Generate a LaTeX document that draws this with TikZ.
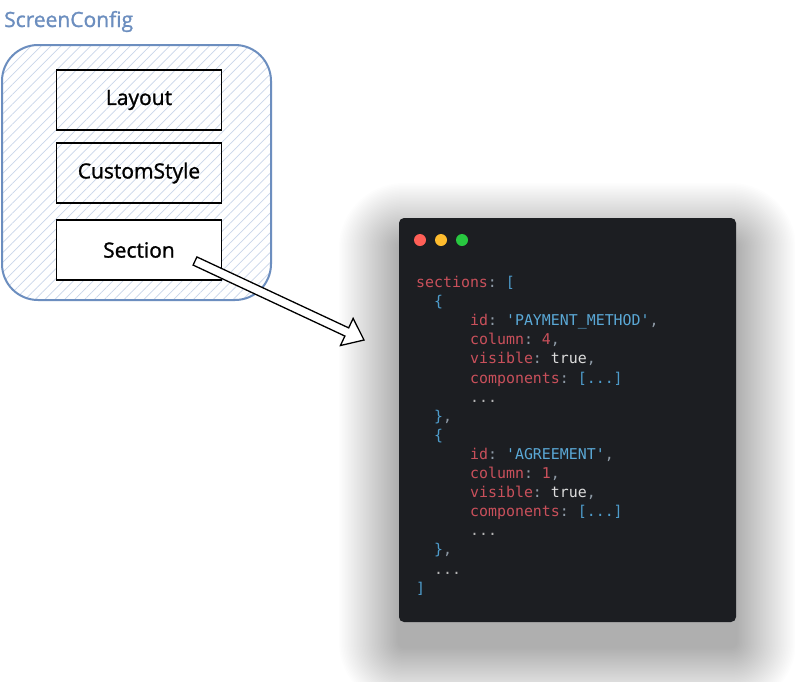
\documentclass[tikz,border=0pt]{standalone}
\usepackage{fontspec}
\setmainfont{Open Sans}[FakeBold=1.2]
\newfontfamily\codefont{DejaVu Sans Mono}
\usetikzlibrary{patterns.meta,calc}
\definecolor{cfgblue}{HTML}{6C8EBF}
\definecolor{hatchblue}{HTML}{C9D6EA}
\definecolor{panelbg}{HTML}{1C1E22}
\definecolor{keyred}{HTML}{C9505B}
\definecolor{strblue}{HTML}{5AA8D6}
\definecolor{brblue}{HTML}{4E9CCB}
\definecolor{colgray}{HTML}{8E9AA6}
\definecolor{truewhite}{HTML}{DCDCDC}
\definecolor{dotgray}{HTML}{B4B4B4}
\definecolor{dred}{HTML}{FF5F57}
\definecolor{dyellow}{HTML}{FEBC2E}
\definecolor{dgreen}{HTML}{28C840}
\newcommand\Ky[1]{\textcolor{keyred}{#1}}
\newcommand\Co[1]{\textcolor{colgray}{#1}}
\newcommand\St[1]{\textcolor{strblue}{#1}}
\newcommand\Br[1]{\textcolor{brblue}{#1}}
\newcommand\Tr[1]{\textcolor{truewhite}{#1}}
\newcommand\Dt[1]{\textcolor{dotgray}{#1}}
\begin{document}
\begin{tikzpicture}[x=1pt,y=-1pt,
  itembox/.style={draw=black,line width=1.8pt,minimum width=165pt,minimum height=60pt,inner sep=0pt,font=\fontsize{21}{24}\selectfont},
  codetxt/.style={anchor=base west,inner sep=0pt,font=\codefont\fontsize{14.9}{18}\selectfont\frenchspacing}]
\useasboundingbox (0,0) rectangle (795,681);
\fill[white] (0,0) rectangle (795,681);
% shadow
\foreach \i [evaluate=\i as \r using 5+1.5*\i] in {1,...,40}{
  \fill[black,fill opacity=0.009,rounded corners=\r pt] ({399-1.5*\i},{243-1.5*\i}) rectangle ({736+1.5*\i},{647+1.5*\i});
}
% ScreenConfig group
\node[anchor=base west,inner sep=0pt,text=cfgblue,font=\fontsize{21}{24}\selectfont] (title) at (4,27) {ScreenConfig};
\draw[cfgblue,line width=2pt,rounded corners=36pt,pattern={Lines[angle=45,distance=7pt,line width=0.7pt]},pattern color=hatchblue] (2,45) rectangle (271,300);
\node[itembox] (layout) at (139,100) {\raisebox{-2pt}{Layout}};
\node[itembox] (custom) at (139,173) {\raisebox{-2pt}{CustomStyle}};
\node[itembox,fill=white] (sec) at (139,250) {\raisebox{-2pt}{Section}};
% code panel
\fill[panelbg,rounded corners=5pt] (399,218) rectangle (736,622);
\node[inner sep=0pt] (panel) at (567.5,420) {};
\fill[dred] (420,240) circle (6pt);
\fill[dyellow] (441,240) circle (6pt);
\fill[dgreen] (462,240) circle (6pt);
\node[codetxt] (l0) at ({416+0*9},{287.5+0*19.1}) {\Ky{sections}\Co{:} \Br{[}};
\node[codetxt] (l1) at ({416+2*9},{287.5+1*19.1}) {\Br{\{}};
\node[codetxt] (l2) at ({416+6*9},{287.5+2*19.1}) {\Ky{id}\Co{:} \St{'PAYMENT\_METHOD'}\Co{,}};
\node[codetxt] (l3) at ({416+6*9},{287.5+3*19.1}) {\Ky{column}\Co{:} \Ky{4}\Co{,}};
\node[codetxt] (l4) at ({416+6*9},{287.5+4*19.1}) {\Ky{visible}\Co{:} \Tr{true}\Co{,}};
\node[codetxt] (l5) at ({416+6*9},{287.5+5*19.1}) {\Ky{components}\Co{:} \Br{[...]}};
\node[codetxt] (l6) at ({416+6*9},{287.5+6*19.1}) {\Dt{...}};
\node[codetxt] (l7) at ({416+2*9},{287.5+7*19.1}) {\Br{\}}\Co{,}};
\node[codetxt] (l8) at ({416+2*9},{287.5+8*19.1}) {\Br{\{}};
\node[codetxt] (l9) at ({416+6*9},{287.5+9*19.1}) {\Ky{id}\Co{:} \St{'AGREEMENT'}\Co{,}};
\node[codetxt] (l10) at ({416+6*9},{287.5+10*19.1}) {\Ky{column}\Co{:} \Ky{1}\Co{,}};
\node[codetxt] (l11) at ({416+6*9},{287.5+11*19.1}) {\Ky{visible}\Co{:} \Tr{true}\Co{,}};
\node[codetxt] (l12) at ({416+6*9},{287.5+12*19.1}) {\Ky{components}\Co{:} \Br{[...]}};
\node[codetxt] (l13) at ({416+6*9},{287.5+13*19.1}) {\Dt{...}};
\node[codetxt] (l14) at ({416+2*9},{287.5+14*19.1}) {\Br{\}}\Co{,}};
\node[codetxt] (l15) at ({416+2*9},{287.5+15*19.1}) {\Dt{...}};
\node[codetxt] (l16) at ({416+0*9},{287.5+16*19.1}) {\Br{]}};
% block arrow from Section to panel
\coordinate (at) at ($(sec.center)+(56,11)$);
\coordinate (ah) at (364,340);
\coordinate (hb) at ($(ah)!19pt!(at)$);
\draw[black,line width=1.3pt,fill=white,line join=miter]
  ($(at)!4.5pt!90:(ah)$) -- ($(hb)!4.5pt!-90:(at)$) -- ($(hb)!15pt!-90:(at)$) -- (ah)
  -- ($(hb)!15pt!90:(at)$) -- ($(hb)!4.5pt!90:(at)$) -- ($(at)!4.5pt!-90:(ah)$) -- cycle;
\end{tikzpicture}
\end{document}
